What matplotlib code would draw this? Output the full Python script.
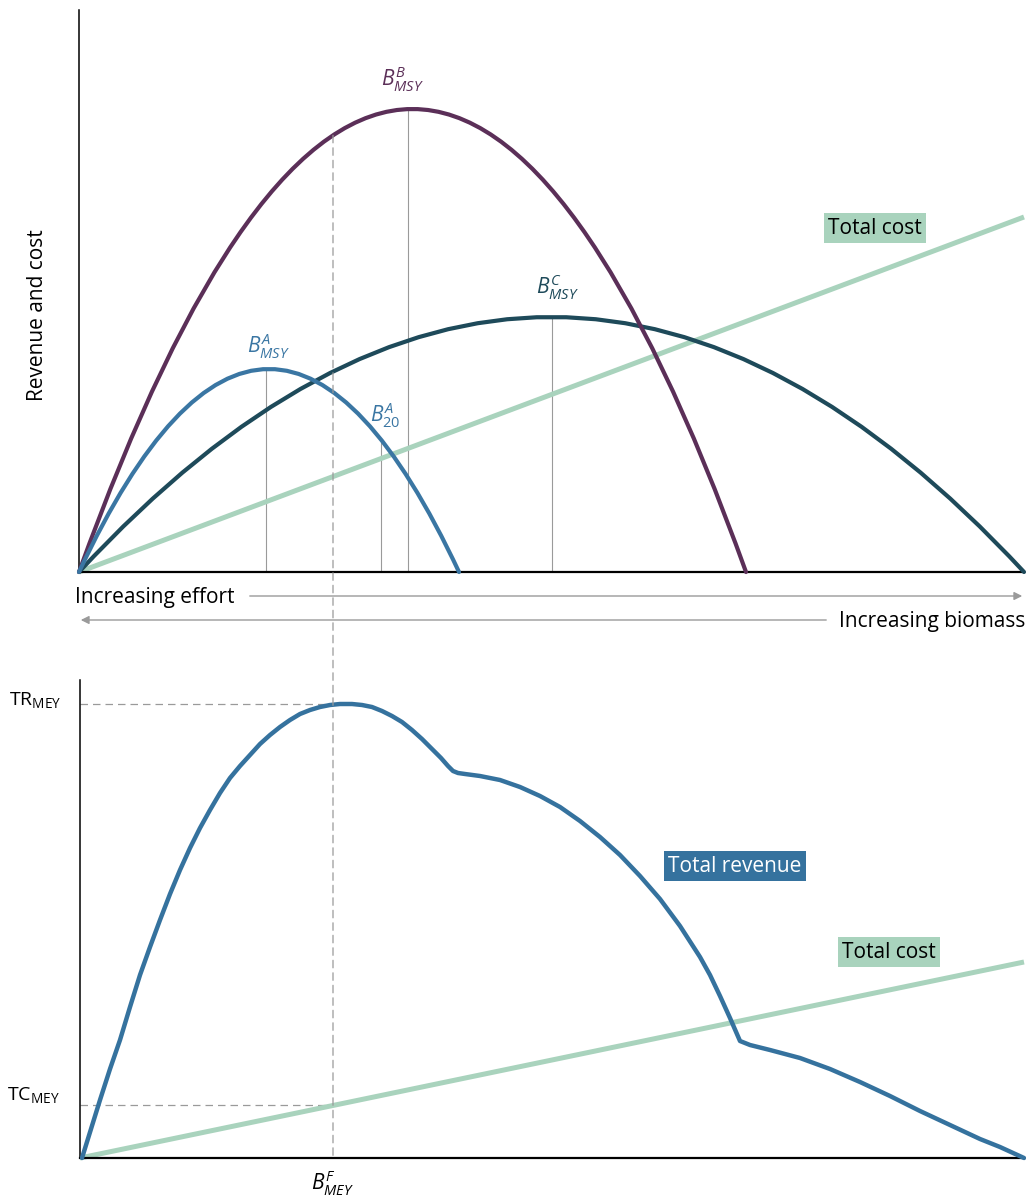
import matplotlib
matplotlib.use("Agg")
import matplotlib.pyplot as plt
from matplotlib.path import Path
from matplotlib.patches import PathPatch, ConnectionPatch, FancyArrowPatch

plt.rcParams['font.family'] = ['Open Sans', 'DejaVu Sans']
plt.rcParams['mathtext.fontset'] = 'custom'
plt.rcParams['mathtext.rm'] = 'Open Sans'
plt.rcParams['mathtext.it'] = 'Open Sans:italic'
plt.rcParams['mathtext.bf'] = 'Open Sans:bold'

# ---------------- data (arbitrary units) ----------------
# Upper panel: revenue curves of three stocks (zero-revenue effort, peak revenue)
stock_names = ['A', 'B', 'C']
stock_zero_effort = [380, 667, 945]
stock_peak_revenue = [203, 463, 255]
stock_msy_effort = [187, 329, 473]
stock_colors = ['#3a76a3', '#5b2f58', '#1e4a5a']
msy_labels = [r'$B^{A}_{MSY}$', r'$B^{B}_{MSY}$', r'$B^{C}_{MSY}$']

# total cost (upper): linear from 0 to this value at max effort
upper_cost_end = 355
upper_effort_max = 945
upper_rev_max = 562

# B20 of stock A
b20_effort = 302
# MEY effort
mey_effort = 254

# Lower panel: total revenue (sum over stocks still fished)
tr_px_x = [82, 91, 100, 110, 120, 130, 140, 150, 160, 170, 180, 190, 200, 210,
           220, 230, 240, 250, 260, 270, 280, 290, 300, 310, 320, 330, 340, 352,
           362, 372, 382, 392, 402, 412, 422, 432, 441, 448, 453, 458, 465, 480,
           500, 520, 540, 560, 580, 600, 620, 640, 660, 680, 700, 710, 720, 730,
           740, 750, 770, 800, 830, 860, 890, 920, 950, 980, 1000, 1024]
tr_px_y = [1158, 1129, 1100, 1069, 1040, 1007, 975, 947, 920, 894, 870, 848, 828, 810,
           793, 778, 766, 755, 744, 735, 727, 720, 714, 710, 707, 705, 704, 704,
           705, 707, 711, 716, 722, 730, 739, 749, 758, 766, 771, 773, 774, 776,
           780, 787, 796, 807, 821, 837, 855, 876, 899, 926, 957, 975, 996, 1018,
           1041, 1045, 1050, 1058, 1069, 1082, 1096, 1111, 1125, 1139, 1147, 1158]
tr_effort = [x - 80 for x in tr_px_x]
tr_revenue = [1158 - y for y in tr_px_y]
lower_cost_end = 196
lower_effort_max = 944
lower_rev_max = 478
tr_mey = 454
tc_mey = 53

# ---------------- figure ----------------
fig = plt.figure(figsize=(10.26, 12), dpi=100)
W, H = 1026, 1200

ax1 = fig.add_axes([79 / W, (H - 572) / H, (1024 - 79) / W, (572 - 10) / H])
ax2 = fig.add_axes([80 / W, (H - 1158) / H, (1024 - 80) / W, (1158 - 680) / H])

for ax in (ax1, ax2):
    ax.set_xticks([])
    ax.set_yticks([])
    ax.spines['top'].set_visible(False)
    ax.spines['right'].set_visible(False)
    ax.spines['left'].set_linewidth(1.1)
    ax.spines['bottom'].set_linewidth(1.6)
    ax.patch.set_alpha(0)

ax1.set_xlim(0, upper_effort_max)
ax1.set_ylim(0, upper_rev_max)
ax2.set_xlim(0, lower_effort_max)
ax2.set_ylim(0, lower_rev_max)

cost_col = '#a9d3bd'
grey = '#9a9a9a'
FS = 15

def parab(i, x):
    L = stock_zero_effort[i]
    h = stock_peak_revenue[i]
    return 4 * h * (x / L) * (1 - x / L)

# total cost upper
ax1.plot([0, upper_effort_max], [0, upper_cost_end], color=cost_col, lw=3.6,
         solid_capstyle='butt', clip_on=False, zorder=2)

# thin vertical reference lines
for i in range(3):
    xm = stock_msy_effort[i]
    ax1.plot([xm, xm], [0, parab(i, xm)], color=grey, lw=0.8, zorder=1)
ax1.plot([b20_effort, b20_effort], [0, parab(0, b20_effort)], color=grey, lw=0.8, zorder=1)

# revenue parabolas as quadratic Bezier curves
for i in [2, 1, 0]:
    L = stock_zero_effort[i]
    h = stock_peak_revenue[i]
    path = Path([(0, 0), (L / 2, 2 * h), (L, 0)], [Path.MOVETO, Path.CURVE3, Path.CURVE3])
    patch = PathPatch(path, facecolor='none', edgecolor=stock_colors[i], lw=3.0,
                      capstyle='round', clip_on=False, zorder=3)
    ax1.add_patch(patch)

# labels
lab_pos = [(189, 226), (323, 493), (478, 285)]
for i in range(3):
    ax1.text(lab_pos[i][0], lab_pos[i][1], msy_labels[i], color=stock_colors[i],
             fontsize=FS, ha='center', va='center')
ax1.text(306, 157, r'$B^{A}_{20}$', color=stock_colors[0], fontsize=FS,
         ha='center', va='center')

ax1.text(796, 344, 'Total cost', fontsize=FS, ha='center', va='center', color='black',
         bbox=dict(boxstyle='square,pad=0.2', fc=cost_col, ec='none'))

fig.text(38 / W, (H - 315) / H, 'Revenue and cost', rotation=90, fontsize=FS,
         ha='center', va='center')

# effort / biomass arrows
fig.text(75 / W, (H - 597) / H, 'Increasing effort', fontsize=FS, ha='left', va='center')
fig.text(1025 / W, (H - 621) / H, 'Increasing biomass', fontsize=FS, ha='right', va='center')
fig.add_artist(FancyArrowPatch(
    (247 / W, (H - 596) / H), (1025 / W, (H - 596) / H), transform=fig.transFigure,
    arrowstyle='-|>', mutation_scale=12, color=grey, lw=1.0))
fig.add_artist(FancyArrowPatch(
    (829 / W, (H - 620) / H), (78 / W, (H - 620) / H), transform=fig.transFigure,
    arrowstyle='-|>', mutation_scale=12, color=grey, lw=1.0))

# lower panel
ax2.plot([0, lower_effort_max], [0, lower_cost_end], color=cost_col, lw=3.6,
         solid_capstyle='butt', clip_on=False, zorder=2)
ax2.plot(tr_effort, tr_revenue, color='#35729e', lw=3.2, solid_capstyle='round',
         solid_joinstyle='round', clip_on=False, zorder=3)

ax2.plot([0, mey_effort], [tr_mey, tr_mey], color=grey, lw=0.9, ls=(0, (6, 4)), zorder=1)
ax2.plot([0, mey_effort], [tc_mey, tc_mey], color=grey, lw=0.9, ls=(0, (6, 4)), zorder=1)

con = ConnectionPatch(xyA=(mey_effort, parab(1, mey_effort)), coordsA=ax1.transData,
                      xyB=(mey_effort - 1, 0), coordsB=ax2.transData,
                      color=grey, lw=0.9, ls=(0, (6, 4)), zorder=1)
fig.add_artist(con)

ax2.text(655, 292, 'Total revenue', fontsize=FS, ha='center', va='center', color='white',
         bbox=dict(boxstyle='square,pad=0.2', fc='#35729e', ec='none'))
ax2.text(809, 206, 'Total cost', fontsize=FS, ha='center', va='center', color='black',
         bbox=dict(boxstyle='square,pad=0.2', fc=cost_col, ec='none'))

fig.text(35 / W, (H - 700) / H, r'TR$_{\mathrm{MEY}}$', fontsize=FS - 1, ha='center', va='center')
fig.text(33 / W, (H - 1095) / H, r'TC$_{\mathrm{MEY}}$', fontsize=FS - 1, ha='center', va='center')
fig.text(333 / W, (H - 1183) / H, r'$B^{F}_{MEY}$', fontsize=FS, ha='center', va='center')

fig.savefig('out.png', dpi=100)
